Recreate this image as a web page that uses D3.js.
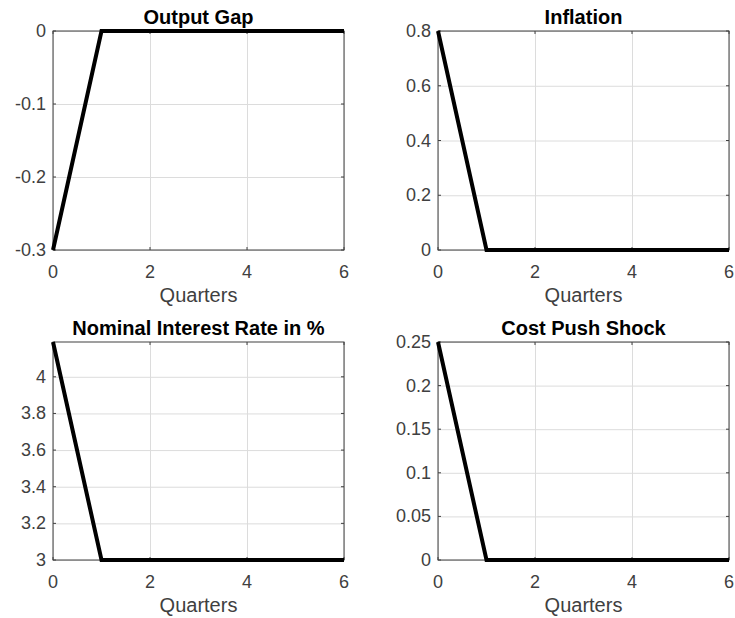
<html>
<head>
  <script src="https://d3js.org/d3.v7.min.js"></script>
  <style>
    body { margin: 0; background: #fff; }
    text { font-family: "Liberation Sans", Arial, sans-serif; }
    .gridlines line { stroke: #dcdcdc; stroke-width: 1; }
    .gridlines .domain { stroke: none; }
  </style>
</head>
<body>
  <svg id="irf" width="735" height="618"></svg>

  <script>
    const quarters = [0, 1, 2, 3, 4, 5, 6];
    const xTicks = [0, 2, 4, 6];

    const outputGap = [-0.3, 0, 0, 0, 0, 0, 0];
    const inflation = [0.8, 0, 0, 0, 0, 0, 0];
    const interestRate = [4.19, 3, 3, 3, 3, 3, 3];
    const costPush = [0.25, 0, 0, 0, 0, 0, 0];

    const titles = ['Output Gap', 'Inflation', 'Nominal Interest Rate in %', 'Cost Push Shock'];
    const yDomains = [[-0.3, 0], [0, 0.8], [3, 4.19], [0, 0.25]];
    const yTicks = [
      [-0.3, -0.2, -0.1, 0],
      [0, 0.2, 0.4, 0.6, 0.8],
      [3, 3.2, 3.4, 3.6, 3.8, 4],
      [0, 0.05, 0.1, 0.15, 0.2, 0.25]
    ];
    const series = [outputGap, inflation, interestRate, costPush];

    const svg = d3.select('svg#irf');

    // panel boxes: left, top, width, height
    const panels = [
      { x: 53, y: 31, w: 291, h: 219 },
      { x: 438, y: 31, w: 291, h: 219 },
      { x: 53, y: 342, w: 291, h: 218 },
      { x: 438, y: 342, w: 291, h: 218 }
    ];

    panels.forEach((p, i) => {
      const g = svg.append('g')
        .attr('transform', `translate(${p.x},${p.y})`);

      const xScale = d3.scaleLinear().domain([0, 6]).range([0, p.w]);
      const yScale = d3.scaleLinear().domain(yDomains[i]).range([p.h, 0]);

      // gridlines
      g.append('g')
        .attr('class', 'gridlines')
        .attr('transform', `translate(0,${p.h})`)
        .call(d3.axisBottom(xScale).tickValues(xTicks).tickSize(-p.h).tickFormat(''));
      g.append('g')
        .attr('class', 'gridlines')
        .call(d3.axisLeft(yScale).tickValues(yTicks[i]).tickSize(-p.w).tickFormat(''));

      // inward ticks on all four sides
      const tickLen = 3;
      xTicks.forEach(t => {
        g.append('line').attr('x1', xScale(t)).attr('x2', xScale(t))
          .attr('y1', p.h).attr('y2', p.h - tickLen).attr('stroke', '#404040');
        g.append('line').attr('x1', xScale(t)).attr('x2', xScale(t))
          .attr('y1', 0).attr('y2', tickLen).attr('stroke', '#404040');
      });
      yTicks[i].forEach(t => {
        g.append('line').attr('y1', yScale(t)).attr('y2', yScale(t))
          .attr('x1', 0).attr('x2', tickLen).attr('stroke', '#404040');
        g.append('line').attr('y1', yScale(t)).attr('y2', yScale(t))
          .attr('x1', p.w).attr('x2', p.w - tickLen).attr('stroke', '#404040');
      });

      // box
      g.append('rect')
        .attr('x', 0).attr('y', 0)
        .attr('width', p.w).attr('height', p.h)
        .attr('fill', 'none')
        .attr('stroke', '#404040')
        .attr('stroke-width', 1);

      // tick labels
      g.selectAll('.xlab').data(xTicks).join('text')
        .attr('class', 'xlab')
        .attr('x', d => xScale(d))
        .attr('y', p.h + 28)
        .attr('text-anchor', 'middle')
        .style('font-size', '18px')
        .style('fill', '#404040')
        .text(d => d);

      g.selectAll('.ylab').data(yTicks[i]).join('text')
        .attr('class', 'ylab')
        .attr('x', -7)
        .attr('y', d => yScale(d))
        .attr('text-anchor', 'end')
        .attr('dominant-baseline', 'central')
        .style('font-size', '18px')
        .style('fill', '#404040')
        .text(d => d);

      // x label
      g.append('text')
        .attr('x', p.w / 2)
        .attr('y', p.h + 52)
        .attr('text-anchor', 'middle')
        .style('font-size', '20px')
        .style('fill', '#404040')
        .text('Quarters');

      // title
      g.append('text')
        .attr('x', p.w / 2)
        .attr('y', -7)
        .attr('text-anchor', 'middle')
        .style('font-size', '20px')
        .style('font-weight', 'bold')
        .style('fill', '#000')
        .text(titles[i]);

      // response line
      g.append('path')
        .datum(quarters.map((q, k) => [q, series[i][k]]))
        .attr('fill', 'none')
        .attr('stroke', '#000')
        .attr('stroke-width', 4)
        .attr('stroke-linejoin', 'miter')
        .attr('d', d3.line()
          .x(d => xScale(d[0]))
          .y(d => yScale(d[1])));
    });
  </script>
</body>
</html>
